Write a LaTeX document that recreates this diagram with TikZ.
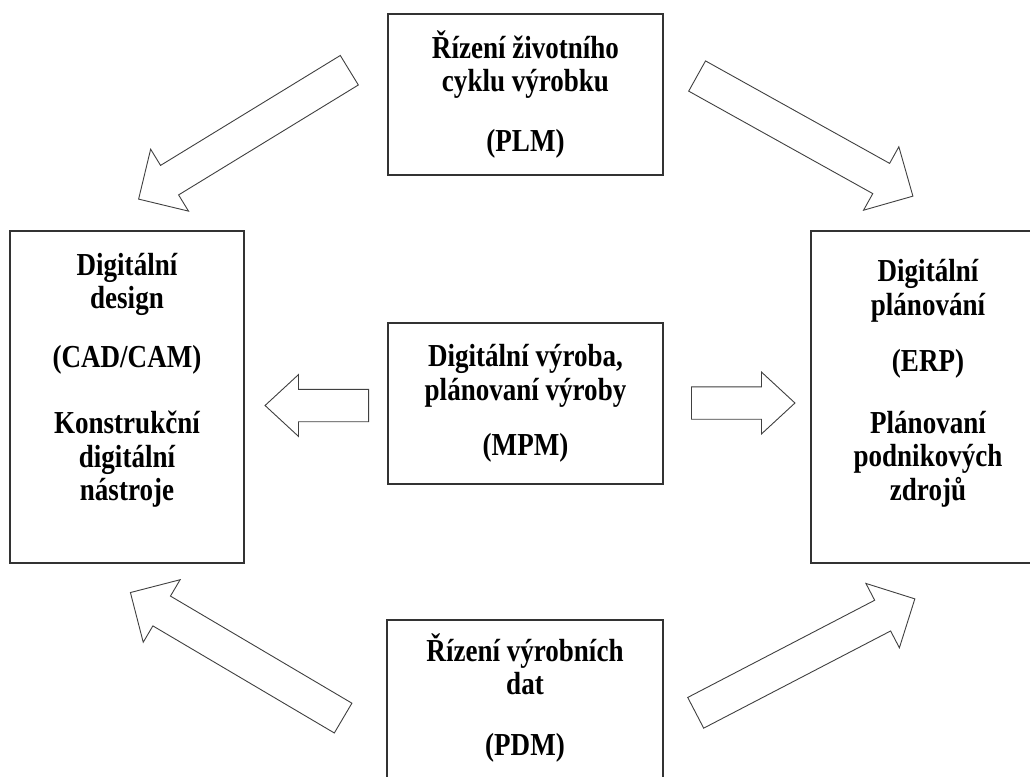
\documentclass[tikz,border=0pt]{standalone}
\usepackage{fontspec}
\setmainfont{Liberation Serif}[FakeStretch=0.845]
\usetikzlibrary{shapes.arrows}

\tikzset{
  box/.style={draw=black!80, line width=1.1pt, inner sep=0pt},
  txt/.style={text width=230pt, align=flush center, inner sep=0pt, anchor=base,
              font=\fontsize{32pt}{33.5pt}\selectfont\bfseries},
  blockarrow/.style={single arrow, draw=black!75, line width=0.9pt, fill=white,
              inner xsep=0pt, inner ysep=16.85pt, anchor=tail, minimum height=247pt,
              single arrow head extend=19pt},
  shortarrow/.style={blockarrow, inner ysep=15.75pt, minimum height=103.5pt,
              single arrow head extend=14.75pt, single arrow tip angle=85.5}
}

\begin{document}
\begin{tikzpicture}[x=1pt,y=-1pt]
\useasboundingbox (0,0) rectangle (1030,776);

%boxes
\node[box, minimum width=275pt, minimum height=161pt] (plm) at (525.5,94.5) {};
\node[box, minimum width=275pt, minimum height=161pt] (mpm) at (525.5,403.5) {};
\node[box, minimum width=276pt, minimum height=161pt] (pdm) at (525,700.5) {};
\node[box, minimum width=234pt, minimum height=332pt] (cad) at (127,397) {};
\node[box, minimum width=234pt, minimum height=332pt] (erp) at (928,397) {};

%texts
\node[txt] (plmtxt) at (525.5,58.3) {Řízení životního\\ cyklu výrobku\\[26.5pt] (PLM)};
\node[txt] (mpmtxt) at (525.5,366.7) {Digitální výroba,\\ plánovaní výroby\\[22pt] (MPM)};
\node[txt] (pdmtxt) at (525,661) {Řízení výrobních\\ dat\\[27pt] (PDM)};
\node[txt] (cadtxt) at (127,275) {Digitální\\ design\\[25.5pt] (CAD/CAM)\\[32.5pt] Konstrukční\\ digitální\\ nástroje};
\node[txt] (erptxt) at (928,281.7) {Digitální\\ plánování\\[23pt] (ERP)\\[28pt] Plánovaní\\ podnikových\\ zdrojů};

%arrows
\node[blockarrow, rotate=211.45] (plm-cad) at (349.7,70) {};
\node[blockarrow, rotate=330.9] (plm-erp) at (696.7,75.8) {};
\node[blockarrow, rotate=149.45] (pdm-cad) at (343.5,718.3) {};
\node[blockarrow, rotate=27.47] (pdm-erp) at (695.3,713) {};
\node[shortarrow, rotate=180] (mpm-cad) at (369,405.5) {};
\node[shortarrow, rotate=0] (mpm-erp) at (691,403) {};
\end{tikzpicture}
\end{document}
